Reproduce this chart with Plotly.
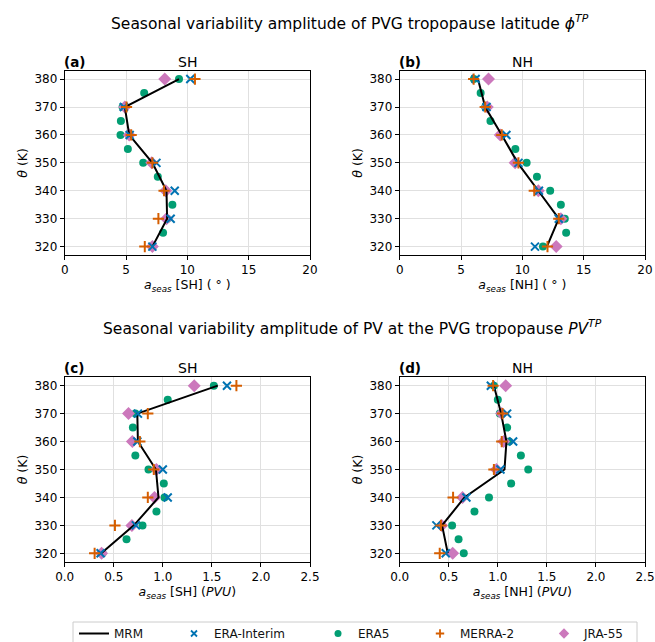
import plotly.graph_objects as go

W, H = 655, 642

theta_main = [380, 370, 360, 350, 340, 330, 320]
theta_era5 = [380, 375, 370, 365, 360, 355, 350, 345, 340, 335, 330, 325, 320]

# Panel (a): latitude, SH
a_mrm = [9.32, 4.90, 5.26, 7.15, 8.30, 8.35, 7.15]
a_erai = [10.24, 4.82, 5.30, 7.48, 8.97, 8.64, 7.15]
a_era5 = [9.32, 6.48, 4.72, 4.58, 4.55, 5.15, 6.40, 7.59, 8.24, 8.78, 8.37, 8.02, 7.15]
a_merra = [10.62, 5.04, 5.42, 7.15, 8.10, 7.64, 6.53]
a_jra = [8.16, 4.90, 5.26, 7.10, 8.24, 8.30, 7.15]

# Panel (b): latitude, NH
b_mrm = [6.38, 6.97, 8.32, 9.62, 11.30, 12.97, 12.00]
b_erai = [6.19, 7.08, 8.70, 9.68, 11.35, 12.97, 11.03]
b_era5 = [6.05, 6.60, 6.97, 7.40, 8.27, 9.43, 10.35, 11.19, 12.27, 13.14, 13.46, 13.57, 11.68]
b_merra = [6.03, 6.97, 8.32, 9.68, 10.97, 12.97, 12.05]
b_jra = [7.24, 7.14, 8.20, 9.41, 11.30, 13.14, 12.76]

# Panel (c): PV, SH
c_mrm = [1.56, 0.74, 0.746, 0.93, 0.956, 0.705, 0.373]
c_erai = [1.654, 0.746, 0.74, 1.00, 1.05, 0.725, 0.366]
c_era5 = [1.52, 1.05, 0.72, 0.695, 0.69, 0.72, 0.854, 1.01, 1.017, 0.935, 0.793, 0.63, 0.386]
c_merra = [1.75, 0.847, 0.766, 0.908, 0.847, 0.512, 0.305]
c_jra = [1.32, 0.65, 0.69, 0.935, 0.915, 0.685, 0.376]

# Panel (d): PV, NH
d_mrm = [0.96, 1.034, 1.088, 1.068, 0.66, 0.432, 0.49]
d_erai = [0.929, 1.095, 1.156, 1.027, 0.68, 0.374, 0.469]
d_era5 = [0.96, 1.00, 1.02, 1.095, 1.116, 1.235, 1.31, 1.136, 0.91, 0.762, 0.534, 0.60, 0.653]
d_merra = [0.952, 1.048, 1.04, 0.96, 0.544, 0.42, 0.408]
d_jra = [1.08, 1.04, 1.06, 0.986, 0.64, 0.428, 0.54]

series_names = ["MRM", "ERA-Interim", "ERA5", "MERRA-2", "JRA-55"]
C_BLUE = "#0173B2"
C_GREEN = "#029E73"
C_ORANGE = "#D55E00"
C_PINK = "#CC78BC"

FONT = "DejaVu Sans"

panels = [
    dict(ax="", mrm=a_mrm, erai=a_erai, era5=a_era5, merra=a_merra, jra=a_jra),
    dict(ax="2", mrm=b_mrm, erai=b_erai, era5=b_era5, merra=b_merra, jra=b_jra),
    dict(ax="3", mrm=c_mrm, erai=c_erai, era5=c_era5, merra=c_merra, jra=c_jra),
    dict(ax="4", mrm=d_mrm, erai=d_erai, era5=d_era5, merra=d_merra, jra=d_jra),
]

fig = go.Figure()

for p in panels:
    xa, ya = "x" + p["ax"], "y" + p["ax"]
    fig.add_trace(go.Scatter(x=p["era5"], y=theta_era5, xaxis=xa, yaxis=ya, mode="markers",
                             marker=dict(color=C_GREEN, size=8, symbol="circle", line=dict(width=0)),
                             showlegend=False, hoverinfo="skip"))
    fig.add_trace(go.Scatter(x=p["jra"], y=theta_main, xaxis=xa, yaxis=ya, mode="markers",
                             marker=dict(color=C_PINK, size=10, symbol="diamond", line=dict(width=0)),
                             showlegend=False, hoverinfo="skip"))
    fig.add_trace(go.Scatter(x=p["mrm"], y=theta_main, xaxis=xa, yaxis=ya, mode="lines",
                             line=dict(color="black", width=2),
                             showlegend=False, hoverinfo="skip"))
    fig.add_trace(go.Scatter(x=p["erai"], y=theta_main, xaxis=xa, yaxis=ya, mode="markers",
                             marker=dict(color=C_BLUE, size=8, symbol="x-thin",
                                         line=dict(width=2, color=C_BLUE)),
                             showlegend=False, hoverinfo="skip"))
    fig.add_trace(go.Scatter(x=p["merra"], y=theta_main, xaxis=xa, yaxis=ya, mode="markers",
                             marker=dict(color=C_ORANGE, size=8, symbol="cross-thin",
                                         line=dict(width=2, color=C_ORANGE)),
                             showlegend=False, hoverinfo="skip"))

# Legend entries (one legend per entry to reproduce matplotlib column spacing)
leg_specs = [
    ("legend", series_names[0], dict(mode="lines", line=dict(color="black", width=2)), 74),
    ("legend2", series_names[1], dict(mode="markers", marker=dict(color=C_BLUE, size=6, symbol="x-thin",
                                                                    line=dict(width=1.8, color=C_BLUE))), 174),
    ("legend3", series_names[2], dict(mode="markers", marker=dict(color=C_GREEN, size=7, symbol="circle")), 318),
    ("legend4", series_names[3], dict(mode="markers", marker=dict(color=C_ORANGE, size=6, symbol="cross-thin",
                                                                    line=dict(width=1.8, color=C_ORANGE))), 420),
    ("legend5", series_names[4], dict(mode="markers", marker=dict(color=C_PINK, size=8, symbol="diamond")), 544),
]
for lg, name, style, px in leg_specs:
    fig.add_trace(go.Scatter(x=[None], y=[None], name=name, legend=lg, showlegend=True, **style))

leg_layout = {}
for lg, name, style, px in leg_specs:
    leg_layout[lg] = dict(x=px / W, y=1 - 619 / H, xanchor="left", yanchor="top",
                          orientation="h", bgcolor="rgba(0,0,0,0)", borderwidth=0,
                          font=dict(family=FONT, size=12, color="#111"), itemwidth=30)

xdom_l = [64.7 / W, 310 / W]
xdom_r = [399.7 / W, 645 / W]
ydom_t = [1 - 255 / H, 1 - 70.7 / H]
ydom_b = [1 - 561.7 / H, 1 - 377.3 / H]

axis_common = dict(showline=True, linecolor="black", linewidth=1, mirror=True,
                   ticks="outside", ticklen=4, tickcolor="black", tickwidth=1,
                   showgrid=True, gridcolor="#e0e0e0", gridwidth=1, zeroline=False,
                   automargin=False,
                   tickfont=dict(family=FONT, size=12, color="black"))

def xtitle(region, unit):
    return "<i>a</i><sub><i>seas</i></sub> [" + region + "] " + unit

deg = "( ° )"
pvu = "(<i>PVU</i>)"

fig.update_layout(
    width=W, height=H, margin=dict(l=0, r=0, t=0, b=0, autoexpand=False),
    paper_bgcolor="white", plot_bgcolor="white",
    font=dict(family=FONT, size=12, color="black"),
    xaxis=dict(domain=xdom_l, anchor="y", range=[0, 20], tickvals=[0, 5, 10, 15, 20],
               title=dict(text=xtitle("SH", deg), standoff=3, font=dict(size=12.5)), **axis_common),
    yaxis=dict(domain=ydom_t, anchor="x", range=[317, 383], tickvals=[320, 330, 340, 350, 360, 370, 380],
               title=dict(text="<i>θ</i> (K)", standoff=4, font=dict(size=12.5)), **axis_common),
    xaxis2=dict(domain=xdom_r, anchor="y2", range=[0, 20], tickvals=[0, 5, 10, 15, 20],
                title=dict(text=xtitle("NH", deg), standoff=3, font=dict(size=12.5)), **axis_common),
    yaxis2=dict(domain=ydom_t, anchor="x2", range=[317, 383], tickvals=[320, 330, 340, 350, 360, 370, 380],
                title=dict(text="<i>θ</i> (K)", standoff=4, font=dict(size=12.5)), **axis_common),
    xaxis3=dict(domain=xdom_l, anchor="y3", range=[0, 2.5], tickvals=[0, 0.5, 1.0, 1.5, 2.0, 2.5],
                tickformat=".1f",
                title=dict(text=xtitle("SH", pvu), standoff=3, font=dict(size=12.5)), **axis_common),
    yaxis3=dict(domain=ydom_b, anchor="x3", range=[317, 383], tickvals=[320, 330, 340, 350, 360, 370, 380],
                title=dict(text="<i>θ</i> (K)", standoff=4, font=dict(size=12.5)), **axis_common),
    xaxis4=dict(domain=xdom_r, anchor="y4", range=[0, 2.5], tickvals=[0, 0.5, 1.0, 1.5, 2.0, 2.5],
                tickformat=".1f",
                title=dict(text=xtitle("NH", pvu), standoff=3, font=dict(size=12.5)), **axis_common),
    yaxis4=dict(domain=ydom_b, anchor="x4", range=[317, 383], tickvals=[320, 330, 340, 350, 360, 370, 380],
                title=dict(text="<i>θ</i> (K)", standoff=4, font=dict(size=12.5)), **axis_common),
    **leg_layout,
)

# Legend frame
fig.add_shape(type="rect", xref="paper", yref="paper",
              x0=73 / W, x1=637 / W, y0=-0.05, y1=1 - 622 / H,
              line=dict(color="#cccccc", width=1), fillcolor="white", layer="below")

annots = [
    ("Seasonal variability amplitude of PVG tropopause latitude <i>ϕ</i><sup><i>TP</i></sup>", 350, 22, "center", 15.5),
    ("Seasonal variability amplitude of PV at the PVG tropopause <i>PV</i><sup><i>TP</i></sup>", 352, 328, "center", 15.5),
    ("SH", 187.4, 62, "center", 14),
    ("NH", 522.4, 62, "center", 14),
    ("SH", 187.4, 368, "center", 14),
    ("NH", 522.4, 368, "center", 14),
    ("<b>(a)</b>", 62, 62, "left", 13.5),
    ("<b>(b)</b>", 397, 62, "left", 13.5),
    ("<b>(c)</b>", 62, 368, "left", 13.5),
    ("<b>(d)</b>", 397, 368, "left", 13.5),
]
for text, px, py, anchor, size in annots:
    fig.add_annotation(text=text, xref="paper", yref="paper", x=px / W, y=1 - py / H,
                       xanchor=anchor, yanchor="middle", showarrow=False,
                       font=dict(family=FONT, size=size, color="black"))

fig.write_html("out.html")
